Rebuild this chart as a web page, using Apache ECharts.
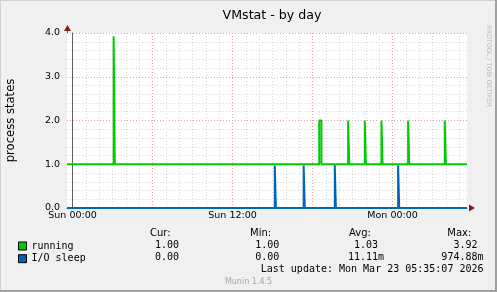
<!DOCTYPE html>
<html>
<head>
<meta charset="utf-8">
<script src="https://cdn.jsdelivr.net/npm/echarts@6/dist/echarts.min.js"></script>
<style>
html,body{margin:0;padding:0;background:#f0f0f0;}
#c{width:497px;height:292px;}
</style>
</head>
<body>
<div id="c"></div>
<script>
// ---- data (minutes relative to Sun 00:00) ----
const xStart = -25;
const xEnd = 1775;
const xTickMinutes = [0, 720, 1440];
const xTickLabels = ['Sun 00:00', 'Sun 12:00', 'Mon 00:00'];
const xMajorGrid = [0, 360, 720, 1080, 1440];
const yTickLabels = ['0.0', '1.0', '2.0', '3.0', '4.0'];

const runningBase = 1.0;
const runningSpikeStart = [185, 1110, 1240, 1315, 1390, 1510, 1675];
const runningSpikeEnd   = [190, 1120, 1245, 1320, 1395, 1515, 1680];
const runningSpikeValue = [3.92, 2.0, 2.0, 2.0, 2.0, 2.0, 2.0];

const ioBase = 0.0;
const ioSpikeStart = [910, 1040, 1180, 1465];
const ioSpikeEnd   = [915, 1045, 1185, 1470];
const ioSpikeValue = [0.97, 0.97, 0.975, 0.97];

const statHeaders = ['Cur:', 'Min:', 'Avg:', 'Max:'];
const runningStats = ['1.00', '1.00', '1.03', '3.92'];
const ioStats = ['0.00', '0.00', '11.11m', '974.88m'];
const lastUpdate = 'Last update: Mon Mar 23 05:35:07 2026';

function steps(base, starts, ends, vals) {
  const d = [[xStart, base]];
  for (let i = 0; i < starts.length; i++) {
    d.push([starts[i], vals[i]]);
    d.push([ends[i], base]);
  }
  d.push([xEnd, base]);
  return d;
}
const hourly = [];
for (let m = Math.ceil(xStart / 60) * 60; m <= xEnd; m += 60) hourly.push(m);

const chart = echarts.init(document.getElementById('c'), null, {renderer: 'canvas'});
const SANS = 'DejaVu Sans';
const MONO = 'DejaVu Sans Mono';
const GRID = {left: 67, top: 33, width: 400, height: 175};

const option = {
  backgroundColor: '#f0f0f0',
  animation: false,
  title: {
    text: 'VMstat - by day', left: 267, top: 4, textAlign: 'center',
    textStyle: {fontFamily: SANS, fontSize: 12.6, fontWeight: 'normal', color: '#000'}
  },
  legend: {
    orient: 'vertical', left: 13, top: 235, itemWidth: 8, itemHeight: 8, itemGap: 0.7,
    selectedMode: false, icon: 'rect',
    itemStyle: {borderColor: '#000', borderWidth: 1},
    textStyle: {fontFamily: MONO, fontSize: 10, color: '#000', lineHeight: 12},
    data: ['running', 'I/O sleep']
  },
  grid: Object.assign({show: true, backgroundColor: '#fff', borderWidth: 0,
    containLabel: false, outerBoundsMode: 'none'}, GRID),
  xAxis: [{
    type: 'value', min: xStart, max: xEnd,
    axisLine: {show: true, lineStyle: {color: '#606060', width: 1}},
    axisTick: {show: false, customValues: hourly},
    axisLabel: {show: true, customValues: xTickMinutes, margin: 3,
      formatter: v => xTickLabels[xTickMinutes.indexOf(v)],
      fontFamily: SANS, fontSize: 9.5, color: '#000'},
    splitLine: {show: true, lineStyle: {color: '#d8d8d8', type: [1, 2], width: 1}}
  }, {
    type: 'value', min: xStart, max: xEnd, position: 'bottom',
    axisLine: {show: false}, axisTick: {show: false, customValues: xMajorGrid},
    axisLabel: {show: false},
    splitLine: {show: true, lineStyle: {color: '#e8a0a0', type: [1, 2], width: 1}}
  }],
  yAxis: {
    type: 'value', min: 0, max: 4, interval: 1,
    name: 'process states', nameLocation: 'middle', nameGap: 50, nameRotate: 90,
    nameTextStyle: {fontFamily: SANS, fontSize: 11.6, color: '#000'},
    axisLine: {show: true, lineStyle: {color: '#606060', width: 1}},
    axisTick: {show: false},
    axisLabel: {margin: 7, fontFamily: SANS, fontSize: 9.5, color: '#000',
      formatter: v => yTickLabels[v]},
    splitLine: {show: true, lineStyle: {color: '#e8a0a0', type: [1, 2], width: 1}},
    minorTick: {show: false, splitNumber: 5},
    minorSplitLine: {show: true, lineStyle: {color: '#d8d8d8', type: [1, 2], width: 1}}
  },
  series: [{
    name: 'running', type: 'line', step: 'end', symbol: 'none', xAxisIndex: 0,
    color: '#00cc00', lineStyle: {width: 2, color: '#00cc00'},
    data: steps(runningBase, runningSpikeStart, runningSpikeEnd, runningSpikeValue)
  }, {
    name: 'I/O sleep', type: 'line', step: 'end', symbol: 'none', xAxisIndex: 0,
    color: '#0066b3', lineStyle: {width: 2, color: '#0066b3'},
    data: steps(ioBase, ioSpikeStart, ioSpikeEnd, ioSpikeValue)
  }]
};
chart.setOption(option);

// decorations: arrows, frame, legend table texts
const tl = chart.convertToPixel({gridIndex: 0}, [xStart, 4]);
const br = chart.convertToPixel({gridIndex: 0}, [xEnd, 0]);
const ARROW = '#7f1d1d';
const g = [];
g.push({type: 'line', shape: {x1: tl[0] + 0.5, y1: tl[1], x2: tl[0] + 0.5, y2: tl[1] - 4}, style: {stroke: '#606060', lineWidth: 1}});
g.push({type: 'polygon', shape: {points: [[tl[0] + 0.5, tl[1] - 8], [tl[0] - 3, tl[1] - 2], [tl[0] + 4, tl[1] - 2]]}, style: {fill: ARROW}});
g.push({type: 'polygon', shape: {points: [[br[0] + 8, br[1]], [br[0] + 2, br[1] - 3.5], [br[0] + 2, br[1] + 3.5]]}, style: {fill: ARROW}});
// frame
g.push({type: 'rect', shape: {x: 0, y: 0, width: 497, height: 1}, style: {fill: '#d0d0d0'}});
g.push({type: 'rect', shape: {x: 0, y: 0, width: 1, height: 292}, style: {fill: '#d0d0d0'}});
g.push({type: 'rect', shape: {x: 495, y: 0, width: 2, height: 292}, style: {fill: '#a0a0a0'}});
g.push({type: 'rect', shape: {x: 0, y: 290, width: 497, height: 2}, style: {fill: '#a0a0a0'}});
// vertical rrdtool credit
g.push({type: 'text', x: 492, y: 25, rotation: -Math.PI / 2,
  style: {text: 'RRDTOOL / TOBI OETIKER', fontFamily: SANS, fontSize: 6.4, fill: '#b8b8b8', align: 'left', verticalAlign: 'top'}});
// legend table
const headerLeft = [150, 250, 349, 447.3];
const colRight = [185, 285.3, 384, 483.5];
statHeaders.forEach((h, i) => g.push({type: 'text', x: headerLeft[i], y: 233,
  style: {text: h, fontFamily: SANS, fontSize: 10, fill: '#000', align: 'left', verticalAlign: 'middle'}}));
const pad = s => /[a-z]$/i.test(s) ? s : s + ' ';
[[runningStats, 245], [ioStats, 257.5]].forEach(([arr, y]) => arr.forEach((s, i) => g.push({
  type: 'text', x: colRight[i], y: y,
  style: {text: pad(s), fontFamily: MONO, fontSize: 10, fill: '#000', align: 'right', verticalAlign: 'middle'}})));
g.push({type: 'text', x: 483.5, y: 269.5,
  style: {text: lastUpdate, fontFamily: MONO, fontSize: 10, fill: '#000', align: 'right', verticalAlign: 'middle'}});
g.push({type: 'text', x: 248.5, y: 281.5,
  style: {text: 'Munin 1.4.5', fontFamily: SANS, fontSize: 8, fill: '#a8a8a8', align: 'center', verticalAlign: 'middle'}});
chart.setOption({graphic: g});
</script>
</body>
</html>
